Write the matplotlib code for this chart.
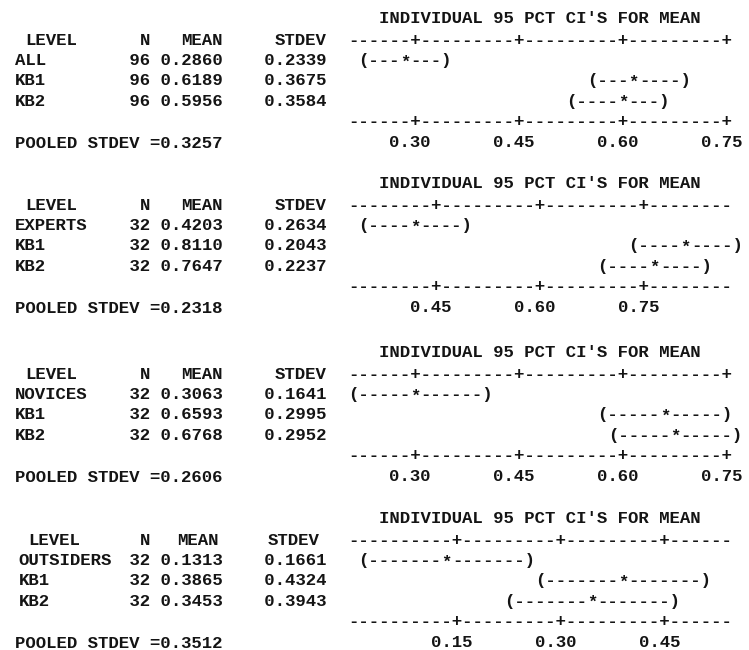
import numpy as np
import matplotlib
matplotlib.use("Agg")
import matplotlib.pyplot as plt

# Minitab one-way ANOVA printouts, four groups
title = "INDIVIDUAL 95 PCT CI'S FOR MEAN"

levels_all = ["ALL", "KB1", "KB2"]
n_all = [96, 96, 96]
mean_all = [0.2860, 0.6189, 0.5956]
stdev_all = [0.2339, 0.3675, 0.3584]
pooled_all = 0.3257
ticks_all = [0.30, 0.45, 0.60, 0.75]

levels_exp = ["EXPERTS", "KB1", "KB2"]
n_exp = [32, 32, 32]
mean_exp = [0.4203, 0.8110, 0.7647]
stdev_exp = [0.2634, 0.2043, 0.2237]
pooled_exp = 0.2318
ticks_exp = [0.45, 0.60, 0.75]

levels_nov = ["NOVICES", "KB1", "KB2"]
n_nov = [32, 32, 32]
mean_nov = [0.3063, 0.6593, 0.6768]
stdev_nov = [0.1641, 0.2995, 0.2952]
pooled_nov = 0.2606
ticks_nov = [0.30, 0.45, 0.60, 0.75]

levels_out = ["OUTSIDERS", "KB1", "KB2"]
n_out = [32, 32, 32]
mean_out = [0.1313, 0.3865, 0.3453]
stdev_out = [0.1661, 0.4324, 0.3943]
pooled_out = 0.3512
ticks_out = [0.15, 0.30, 0.45]

# t(0.975, df) for df = 285 and df = 93
t_crit = [1.968, 1.986, 1.986, 1.986]

panels = [
    (levels_all, n_all, mean_all, stdev_all, pooled_all, ticks_all),
    (levels_exp, n_exp, mean_exp, stdev_exp, pooled_exp, ticks_exp),
    (levels_nov, n_nov, mean_nov, stdev_nov, pooled_nov, ticks_nov),
    (levels_out, n_out, mean_out, stdev_out, pooled_out, ticks_out),
]

# layout: character grid
CW = 10.4          # px per character
X0 = 15            # px of column 0
LH = 20.3          # px per line
header_y = [39, 204, 373, 539]
first_tick_col = [38, 40, 38, 42]
level_dx = [0, 0, 0, 0.35]
head_cols = [(1, 12, 16, 25), (1, 12, 16, 25), (1, 12, 16, 25), (1.3, 12, 15.6, 24.3)]
AX_START, AX_END = 32, 68

fig = plt.figure(figsize=(7.49, 6.5), dpi=100)
ax = fig.add_axes([0, 0, 1, 1])
ax.set_xlim(-X0 / CW, (749 - X0) / CW)
ax.set_ylim(650, 0)
ax.axis("off")

fs = 12.48
col = "#141414"
kw = dict(family="Liberation Mono", fontweight="bold", fontsize=fs, color=col,
          ha="left", va="baseline")


def put(x, y, s):
    ax.text(x, y + 5.8, s, **kw)


for p, (levels, ns, means, sds, pooled, ticks) in enumerate(panels):
    hy = header_y[p]
    step = (ticks[1] - ticks[0]) / 10

    def to_col(v):
        return int(np.floor(first_tick_col[p] + (v - ticks[0]) / step + 0.5))

    tick_cols = [to_col(t) for t in ticks]

    put(35, hy - 22, title)

    hc = head_cols[p]
    put(hc[0], hy, "LEVEL")
    put(hc[1], hy, "N")
    put(hc[2], hy, "MEAN")
    put(hc[3], hy, "STDEV")

    axis_line = ["-"] * (AX_END - AX_START + 1)
    for c in tick_cols:
        if AX_START <= c <= AX_END:
            axis_line[c - AX_START] = "+"
    axis_str = "".join(axis_line)
    put(AX_START, hy, axis_str)
    put(AX_START, hy + 4 * LH, axis_str)

    hw = t_crit[p] * pooled / np.sqrt(ns[0])
    for i, (lv, n, m, sd) in enumerate(zip(levels, ns, means, sds)):
        y = hy + (i + 1) * LH
        put(level_dx[p], y, lv)
        put(10, y, f"{n:>3d} {m:.4f}    {sd:.4f}")
        lo, mid, hi = to_col(m - hw), to_col(m), to_col(m + hw)
        left = "(" + "-" * (mid - lo - 1)
        right = "-" * (hi - mid - 1) + ")"
        put(lo, y, left)
        put(mid + 1, y, right)
        # star sits a little lower in the printout
        put(mid, y + 1.5, "*")

    ly = hy + 5 * LH + 1
    put(0, ly + 1, f"POOLED STDEV ={pooled:.4f}")
    for t, c in zip(ticks, tick_cols):
        put(c - 2, ly, f"{t:.2f}")

fig.savefig("out.png", dpi=100, facecolor="white")
